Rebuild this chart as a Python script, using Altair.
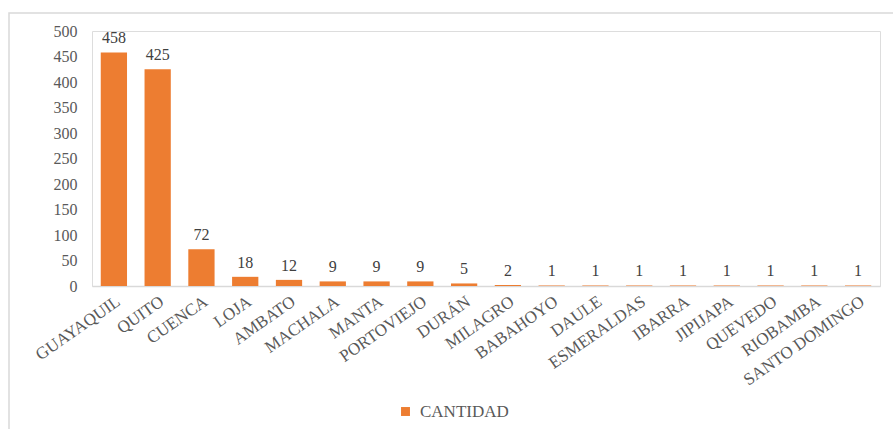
import altair as alt
import pandas as pd

# Cities and number of records per city
ciudades = [
    "GUAYAQUIL", "QUITO", "CUENCA", "LOJA", "AMBATO", "MACHALA", "MANTA",
    "PORTOVIEJO", "DURÁN", "MILAGRO", "BABAHOYO", "DAULE", "ESMERALDAS",
    "IBARRA", "JIPIJAPA", "QUEVEDO", "RIOBAMBA", "SANTO DOMINGO",
]
cantidad = [458, 425, 72, 18, 12, 9, 9, 9, 5, 2, 1, 1, 1, 1, 1, 1, 1, 1]
serie = "CANTIDAD"

df = pd.DataFrame({"ciudad": ciudades, "cantidad": cantidad, "serie": serie})

FONT = "Liberation Serif"
ORANGE = "#ED7D31"
GRAY_TEXT = "#595959"
LINE = "#d9d9d9"

x_enc = alt.X(
    "ciudad:N",
    sort=None,
    title=None,
    scale=alt.Scale(paddingInner=0.4, paddingOuter=0.2),
    axis=alt.Axis(
        labelAngle=-35,
        labelFontSize=17,
        labelFont=FONT,
        labelColor=GRAY_TEXT,
        labelPadding=7,
        labelLimit=0,
        labelOverlap=False,
        ticks=False,
        domainColor=LINE,
        domainWidth=1.5,
    ),
)
y_enc = alt.Y(
    "cantidad:Q",
    title=None,
    scale=alt.Scale(domain=[0, 500]),
    axis=alt.Axis(
        values=list(range(0, 501, 50)),
        labelFontSize=16,
        labelFont=FONT,
        labelColor=GRAY_TEXT,
        labelPadding=15,
        labelOverlap=False,
        ticks=False,
        domain=False,
        grid=False,
    ),
)

base = alt.Chart(df).encode(x=x_enc, y=y_enc)

bars = base.mark_bar().encode(
    color=alt.Color(
        "serie:N",
        scale=alt.Scale(range=[ORANGE]),
        legend=alt.Legend(
            title=None,
            orient="none",
            legendX=305,
            legendY=372,
            symbolType="square",
            symbolSize=80,
            symbolStrokeWidth=0,
            labelFont=FONT,
            labelFontSize=17,
            labelColor=GRAY_TEXT,
            labelOffset=6,
        ),
    ),
)

labels = base.mark_text(
    baseline="alphabetic", dy=-9, font=FONT, fontSize=16, color="#404040"
).encode(text="cantidad:Q")

# light frame around the whole figure
frame = alt.Chart(pd.DataFrame({"k": [0]})).mark_rect(
    fillOpacity=0, stroke=LINE, strokeWidth=1.5
).encode(
    x=alt.value(-83), x2=alt.value(910),
    y=alt.value(-18), y2=alt.value(420),
)

chart = (
    alt.layer(bars, labels, frame)
    .properties(
        width=788,
        height=255,
        autosize=alt.AutoSizeParams(type="none"),
        padding={"left": 92, "top": 31, "right": 13, "bottom": 143},
    )
    .configure_view(stroke=None)
    .configure(background="white", font=FONT)
)

chart.save("out.html", embed_options={"renderer": "svg", "actions": False})
